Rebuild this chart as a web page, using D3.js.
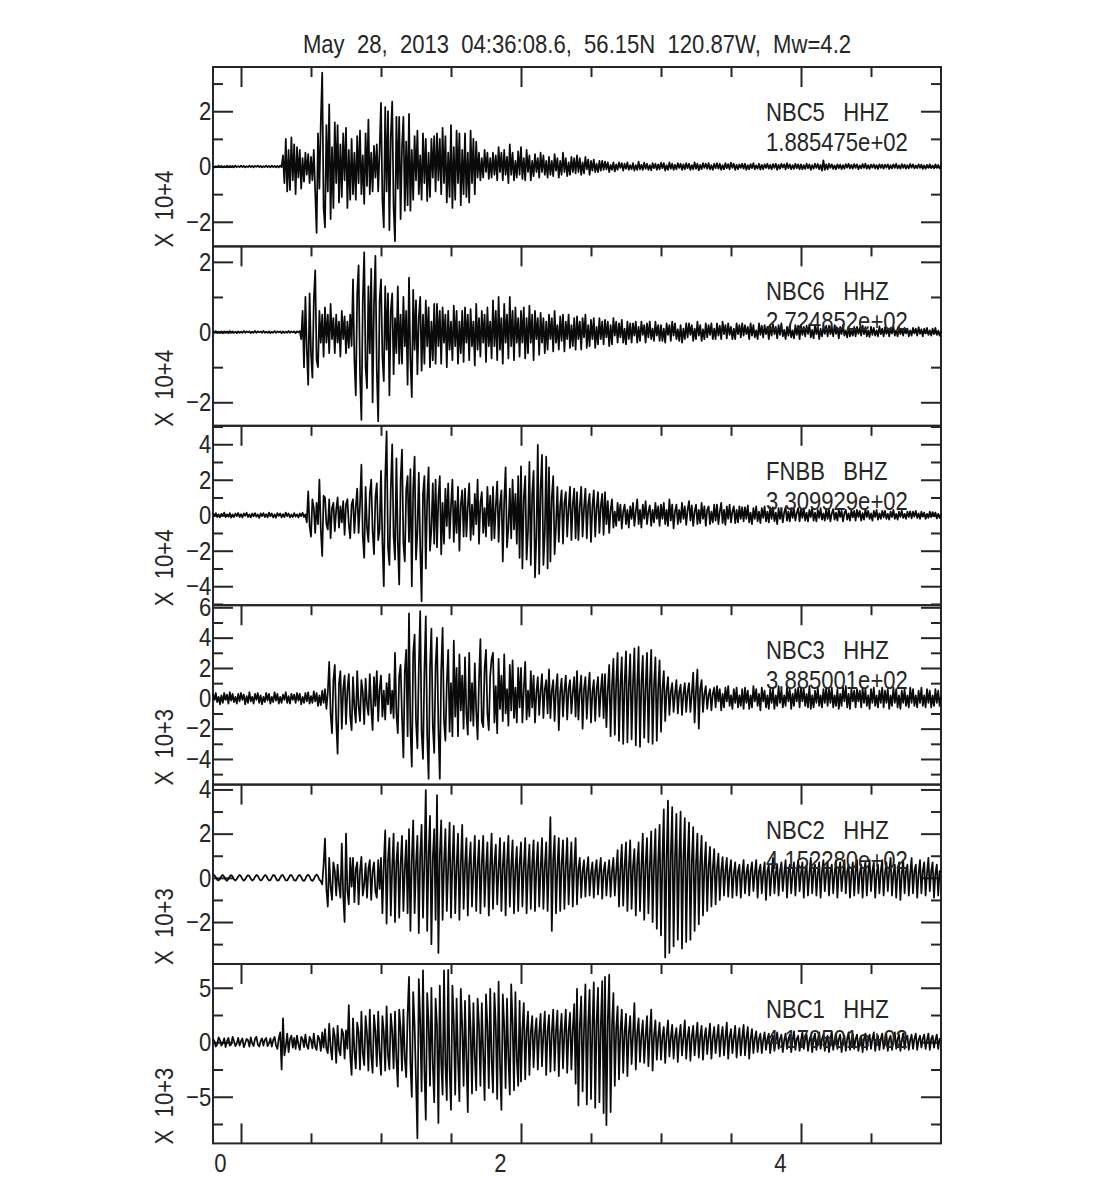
<!DOCTYPE html>
<html>
<head>
<meta charset="utf-8">
<script src="https://cdn.jsdelivr.net/npm/d3@7"></script>
<style>
  html, body { margin: 0; padding: 0; background: #fff; }
  svg { display: block; }
</style>
</head>
<body>
<svg id="chart" width="1100" height="1200"></svg>
<script>
// ---------------- DATA ----------------
const titleText = "May  28,  2013  04:36:08.6,  56.15N  120.87W,  Mw=4.2";
const stations = ["NBC5", "NBC6", "FNBB", "NBC3", "NBC2", "NBC1"];
const channels = ["HHZ", "HHZ", "BHZ", "HHZ", "HHZ", "HHZ"];
const scaleLabels = ["1.885475e+02", "2.724852e+02", "3.309929e+02", "3.885001e+02", "4.152280e+02", "4.179501e+02"];
const unitLabels = ["X  10+4", "X  10+4", "X  10+4", "X  10+3", "X  10+3", "X  10+3"];
const yLo = [-2.89, -2.67, -5.07, -5.69, -3.9, -9.28];
const yHi = [3.6, 2.44, 5.04, 6.14, 4.22, 7.18];
const yMinorStep = [1, 1, 1, 1, 1, 2.5];
const yMajorStep = [2, 2, 2, 2, 2, 5];
const xTickValues = [0, 0.5, 1, 1.5, 2, 2.5, 3, 3.5, 4, 4.5];
const xLabelValues = [0, 2, 4];
const tStart = -0.2, tEnd = 5.0;   // seconds covered by each trace (samples every 0.01 s)

// amplitude samples (one row = 0.2 s)
const nbc5 = [
 0.02,-0.03,0.01,-0.02,0.03,-0.02,0.02,-0.03,0.01,-0.02,0.03,-0.03,0.02,-0.01,0.02,-0.03,0.03,-0.02,0.01,-0.02,
 0.03,-0.02,0.02,-0.03,0.01,-0.02,0.03,-0.02,0.02,-0.03,0.02,-0.01,0.03,-0.02,0.02,-0.03,0.01,-0.02,0.03,-0.02,
 0.02,-0.03,0.03,-0.02,0.02,-0.03,0.02,-0.03,0.03,-0.02,0.4,-0.6,1.0,-0.9,0.6,-0.85,1.05,-0.5,0.8,-1.0,
 0.7,-0.4,0.6,-0.8,0.3,-0.55,0.5,-0.3,0.45,-0.6,0.35,-0.5,0.6,-0.9,-2.4,1.2,-0.8,1.6,3.4,-1.5,
 -2.2,1.5,-0.9,2.25,-1.9,0.7,-1.5,1.6,-0.6,1.5,-1.3,0.8,-1.1,1.2,-0.5,1.4,-1.5,0.6,-1.2,1.0,
 -1.0,0.5,-1.2,1.1,-0.6,1.3,-1.0,0.4,-1.35,1.2,-0.7,1.7,-1.0,0.5,-0.9,0.75,-0.4,0.8,-0.9,0.6,
 2.3,-1.2,-2.2,2.15,-0.9,2.0,-2.3,1.1,2.35,-1.5,-2.7,1.8,-0.8,1.8,-1.9,0.7,1.8,-1.6,0.9,-1.4,
 1.9,-1.6,0.6,-1.2,1.1,-0.5,1.3,-1.0,0.4,-1.2,1.2,-0.6,1.0,-1.25,0.5,-1.1,1.0,-0.4,1.1,-0.9,
 1.2,-0.5,1.0,-1.0,1.4,-0.6,1.1,-1.3,0.5,-1.1,1.5,-1.5,0.7,-1.2,1.3,-0.6,1.2,-1.4,0.6,-1.0,
 1.2,-1.1,0.5,-1.3,1.3,-0.6,1.0,-1.0,0.9,-0.4,0.5,-0.5,0.3,-0.4,0.6,-0.2,0.5,-0.45,0.3,-0.4,
 0.5,-0.3,0.4,-0.5,0.7,-0.2,0.5,-0.5,0.6,-0.3,0.35,-0.6,0.8,-0.3,0.5,-0.5,0.2,-0.4,0.55,-0.3,
 0.7,-0.45,0.3,-0.5,0.6,-0.2,0.4,-0.5,0.2,-0.35,0.45,-0.2,0.3,-0.4,0.5,-0.2,0.4,-0.3,0.2,-0.4,
 0.35,-0.3,0.2,-0.35,0.45,-0.15,0.3,-0.4,0.2,-0.3,0.5,-0.2,0.3,-0.35,0.15,-0.3,0.35,-0.2,0.3,-0.25,
 0.4,-0.2,0.3,-0.3,0.15,-0.25,0.35,-0.1,0.25,-0.3,0.2,-0.15,0.25,-0.2,0.1,-0.2,0.2,-0.15,0.2,-0.12,
 0.18,-0.1,0.15,-0.2,0.06,-0.12,0.15,-0.18,0.08,-0.12,0.15,-0.05,0.12,-0.15,0.1,-0.08,0.15,-0.12,0.05,-0.1,
 0.12,-0.15,0.05,-0.12,0.18,-0.1,0.06,-0.12,0.14,-0.08,0.1,-0.12,0.05,-0.14,0.12,-0.06,0.1,-0.12,0.08,-0.1,
 0.14,-0.06,0.12,-0.15,0.05,-0.12,0.15,-0.08,0.1,-0.12,0.06,-0.1,0.12,-0.05,0.1,-0.12,0.08,-0.1,0.12,-0.06,
 0.1,-0.12,0.05,-0.1,0.15,-0.08,0.1,-0.14,0.06,-0.1,0.12,-0.05,0.1,-0.08,0.12,-0.1,0.05,-0.12,0.1,-0.06,
 0.12,-0.08,0.1,-0.12,0.05,-0.1,0.12,-0.06,0.09,-0.1,0.14,-0.05,0.1,-0.12,0.06,-0.1,0.08,-0.05,0.1,-0.08,
 0.1,-0.12,0.05,-0.1,0.09,-0.06,0.12,-0.1,0.04,-0.08,0.1,-0.11,0.06,-0.1,0.08,-0.05,0.1,-0.08,0.06,-0.1,
 0.09,-0.05,0.1,-0.12,0.06,-0.08,0.1,-0.04,0.08,-0.1,0.12,-0.06,0.08,-0.1,0.05,-0.08,0.1,-0.06,0.08,-0.1,
 0.08,-0.1,0.05,-0.09,0.1,-0.06,0.08,-0.12,0.05,-0.08,0.1,-0.05,0.09,-0.1,0.06,-0.15,0.22,-0.12,0.08,-0.1,
 0.1,-0.05,0.08,-0.09,0.04,-0.1,0.08,-0.06,0.07,-0.1,0.05,-0.08,0.09,-0.04,0.1,-0.07,0.06,-0.08,0.09,-0.05,
 0.08,-0.1,0.04,-0.07,0.09,-0.05,0.1,-0.08,0.05,-0.09,0.07,-0.04,0.08,-0.07,0.05,-0.09,0.08,-0.05,0.07,-0.08,
 0.07,-0.04,0.08,-0.09,0.05,-0.07,0.08,-0.05,0.1,-0.07,0.04,-0.08,0.09,-0.05,0.07,-0.08,0.05,-0.07,0.09,-0.04,
 0.08,-0.07,0.04,-0.06,0.08,-0.05,0.07,-0.09,0.04,-0.08,0.06,-0.05,0.08,-0.06,0.04,-0.07,0.08,-0.05,0.06,-0.07,
 0.03
];
const nbc6 = [
 0.02,-0.01,0.03,-0.02,0.01,-0.02,0.02,-0.03,0.02,-0.01,0.02,-0.02,0.03,-0.01,0.02,-0.02,0.01,-0.03,0.02,-0.02,
 0.01,-0.02,0.03,-0.02,0.02,-0.01,0.02,-0.03,0.01,-0.02,0.03,-0.02,0.02,-0.01,0.02,-0.02,0.03,-0.02,0.01,-0.02,
 0.02,-0.03,0.01,-0.02,0.03,-0.02,0.02,-0.01,0.02,-0.03,0.02,-0.02,0.01,-0.02,0.03,-0.02,0.02,-0.01,0.02,-0.03,
 0.02,-0.01,0.03,-0.2,0.6,-1.0,1.0,-0.5,-1.5,1.1,-0.6,-1.3,0.9,1.76,-0.8,-1.0,0.6,-0.3,0.5,-0.7,
 0.7,-0.3,0.5,-0.6,0.8,-0.2,0.4,-0.6,0.5,-0.3,0.3,-0.7,0.6,-0.2,0.45,-0.6,0.3,-0.45,0.5,-0.4,
 1.5,-0.8,-1.8,1.1,1.9,-1.2,-2.5,0.9,2.27,-1.0,-1.6,1.3,-0.6,1.8,-2.0,0.8,2.17,-1.1,-2.54,0.9,
 1.5,-0.7,-1.4,1.3,-0.5,1.1,-1.8,0.6,1.1,-1.2,0.4,-0.6,1.3,-0.9,0.5,-0.9,1.0,-0.4,0.6,-1.5,
 1.55,-0.8,-1.85,1.2,-0.5,0.9,-1.2,0.4,1.0,-1.1,0.5,-0.9,0.9,-0.4,0.7,-1.0,0.3,-0.8,0.8,-0.9,
 0.8,-0.4,0.6,-0.9,0.7,-0.3,0.5,-1.0,0.6,-0.5,0.3,-0.8,0.75,-0.4,0.6,-0.9,0.3,-0.6,0.6,-0.85,
 0.7,-0.3,0.5,-0.8,0.65,-0.4,0.3,-0.95,0.8,-0.5,0.4,-0.7,0.6,-0.3,0.5,-0.85,0.7,-0.4,0.3,-0.75,
 0.9,-0.4,0.6,-0.8,1.0,-0.5,0.4,-0.9,0.8,-0.3,0.5,-0.75,1.0,-0.4,0.6,-0.8,0.7,-0.3,0.4,-0.7,
 0.6,-0.3,0.7,-0.75,0.4,-0.6,0.75,-0.3,0.5,-0.8,0.6,-0.2,0.4,-0.65,0.55,-0.3,0.4,-0.6,0.3,-0.5,
 0.5,-0.2,0.4,-0.55,0.6,-0.3,0.2,-0.5,0.45,-0.25,0.5,-0.55,0.3,-0.2,0.5,-0.45,0.2,-0.4,0.4,-0.5,
 0.45,-0.2,0.3,-0.5,0.4,-0.15,0.5,-0.45,0.2,-0.4,0.35,-0.2,0.4,-0.45,0.15,-0.35,0.4,-0.2,0.3,-0.35,
 0.35,-0.15,0.3,-0.4,0.2,-0.35,0.4,-0.1,0.3,-0.3,0.25,-0.15,0.35,-0.3,0.1,-0.35,0.3,-0.2,0.25,-0.3,
 0.25,-0.1,0.3,-0.3,0.15,-0.25,0.3,-0.08,0.2,-0.3,0.25,-0.15,0.3,-0.2,0.1,-0.25,0.3,-0.1,0.2,-0.25,
 0.2,-0.25,0.1,-0.3,0.25,-0.08,0.2,-0.25,0.3,-0.1,0.25,-0.2,0.08,-0.25,0.2,-0.3,0.1,-0.2,0.25,-0.15,
 0.25,-0.08,0.2,-0.25,0.1,-0.2,0.3,-0.1,0.2,-0.25,0.08,-0.2,0.25,-0.15,0.2,-0.08,0.25,-0.2,0.1,-0.2,
 0.25,-0.1,0.18,-0.2,0.3,-0.06,0.2,-0.18,0.25,-0.08,0.15,-0.2,0.1,-0.2,0.25,-0.06,0.2,-0.15,0.25,-0.1,
 0.2,-0.06,0.15,-0.2,0.25,-0.1,0.2,-0.15,0.05,-0.2,0.25,-0.08,0.18,-0.15,0.2,-0.06,0.15,-0.2,0.2,-0.1,
 0.22,-0.06,0.15,-0.18,0.2,-0.08,0.25,-0.12,0.06,-0.2,0.15,-0.1,0.2,-0.15,0.05,-0.18,0.2,-0.08,0.18,-0.2,
 0.2,-0.08,0.15,-0.12,0.18,-0.05,0.22,-0.15,0.06,-0.18,0.2,-0.06,0.15,-0.2,0.1,-0.12,0.15,-0.05,0.18,-0.12,
 0.18,-0.06,0.15,-0.12,0.2,-0.05,0.12,-0.18,0.15,-0.06,0.2,-0.1,0.05,-0.15,0.15,-0.12,0.06,-0.1,0.15,-0.12,
 0.15,-0.05,0.12,-0.1,0.18,-0.06,0.14,-0.12,0.05,-0.14,0.15,-0.08,0.12,-0.1,0.05,-0.12,0.16,-0.06,0.1,-0.12,
 0.14,-0.05,0.1,-0.12,0.12,-0.04,0.15,-0.1,0.05,-0.12,0.14,-0.06,0.1,-0.1,0.12,-0.04,0.1,-0.12,0.05,-0.1,
 0.12,-0.04,0.1,-0.1,0.14,-0.05,0.08,-0.12,0.1,-0.04,0.12,-0.08,0.05,-0.1,0.1,-0.06,0.12,-0.08,0.04,-0.1,
 0.03
];
const fnbb = [
 0.1,-0.05,0.12,-0.1,0.04,-0.12,0.08,-0.03,0.15,-0.1,0.05,-0.08,0.12,-0.14,0.04,-0.1,0.1,-0.05,0.13,-0.1,
 0.06,-0.12,0.1,-0.04,0.14,-0.1,0.05,-0.12,0.1,-0.06,0.12,-0.08,0.04,-0.15,0.1,-0.05,0.12,-0.1,0.06,-0.12,
 0.15,-0.06,0.1,-0.12,0.05,-0.14,0.12,-0.04,0.1,-0.12,0.06,-0.1,0.15,-0.05,0.1,-0.12,0.04,-0.1,0.12,-0.08,
 0.05,-0.12,0.1,-0.06,0.14,-0.1,0.05,-0.4,1.35,-0.6,-1.2,0.9,0.4,-1.0,0.7,-0.5,2.0,-0.8,-2.3,1.1,
 1.0,-0.5,-0.8,0.9,-1.3,0.4,0.7,-0.9,0.3,1.0,-0.7,0.5,-0.4,0.8,-1.1,0.6,0.9,-0.5,-1.3,0.6,
 0.9,-1.0,0.5,1.5,-1.0,0.6,2.85,-1.2,-2.4,1.6,-0.7,-1.5,1.2,2.0,-0.9,-2.2,1.0,1.8,-1.4,-0.8,
 2.5,-1.5,-4.0,2.0,4.73,-1.8,-2.8,1.5,4.0,-1.2,-2.5,3.2,-1.5,-3.9,2.0,3.7,-1.6,-2.6,1.4,2.2,
 -1.5,2.6,-4.0,1.5,3.3,-2.5,-1.0,2.4,-1.8,-4.85,1.2,2.2,-3.0,0.9,2.7,-2.0,-0.8,1.8,-1.6,2.0,
 -1.8,1.0,2.2,-2.2,0.7,-1.6,1.5,-0.6,1.8,-1.3,0.5,2.0,-1.5,0.8,-1.0,1.6,-2.0,0.6,1.4,-1.2,
 1.5,-1.2,0.5,1.8,-1.4,0.6,-1.1,1.2,-0.5,2.0,-1.6,0.7,1.3,-1.0,0.4,-1.2,1.6,-0.6,1.1,-1.4,
 1.6,-1.3,0.5,1.9,-1.5,0.6,1.4,-2.6,0.8,2.7,-1.8,-0.7,1.5,-1.3,2.0,-0.8,1.2,-1.6,2.2,-2.4,
 2.76,-3.0,1.0,2.2,-2.5,-0.9,3.0,-2.8,1.2,2.5,-3.5,-1.2,3.96,-3.3,1.5,3.4,-2.8,-1.0,3.3,-3.0,
 2.7,-2.6,1.0,2.2,-2.2,-0.6,1.6,-1.5,0.5,1.4,-1.6,0.7,1.3,-1.2,0.4,1.6,-1.4,0.6,1.5,-1.3,
 1.3,-1.4,0.5,1.6,-1.2,0.4,1.5,-1.3,0.6,1.2,-1.5,0.5,1.4,-1.2,0.4,1.3,-1.0,0.5,1.2,-1.1,
 1.3,-0.5,0.8,-1.0,0.3,0.9,-0.7,0.2,-0.6,0.7,-0.3,0.6,-0.75,0.2,0.6,-0.5,0.3,-0.7,0.5,-0.2,
 0.7,-0.6,0.2,0.9,-0.5,0.3,-0.7,0.6,-0.2,0.8,-0.5,0.2,0.55,-0.6,0.3,-0.4,0.7,-0.2,0.5,-0.6,
 0.6,-0.2,0.7,-0.5,0.3,-0.6,0.9,-0.3,0.6,-0.75,0.2,0.6,-0.5,0.3,-0.4,0.7,-0.2,0.5,-0.55,0.3,
 0.8,-0.3,0.55,-0.6,0.2,0.6,-0.5,0.3,-0.45,0.7,-0.2,0.5,-0.6,0.3,0.5,-0.5,0.2,-0.4,0.6,-0.3,
 0.6,-0.5,0.2,0.7,-0.45,0.3,-0.55,0.5,-0.2,0.6,-0.4,0.2,0.5,-0.45,0.3,-0.4,0.5,-0.2,0.45,-0.35,
 0.45,-0.2,0.55,-0.4,0.15,-0.5,0.4,-0.2,0.5,-0.35,0.2,-0.45,0.4,-0.15,0.5,-0.35,0.2,-0.4,0.45,-0.2,
 0.45,-0.35,0.15,-0.5,0.4,-0.2,0.35,-0.4,0.15,0.45,-0.3,0.2,-0.35,0.4,-0.15,0.35,-0.3,0.15,0.4,-0.35,
 0.35,-0.15,0.4,-0.3,0.15,-0.35,0.3,-0.1,0.4,-0.3,0.15,-0.35,0.3,-0.15,0.4,-0.25,0.1,-0.3,0.35,-0.2,
 0.3,-0.35,0.1,0.35,-0.25,0.15,-0.3,0.3,-0.1,0.25,-0.35,0.12,0.3,-0.25,0.1,-0.3,0.3,-0.12,0.25,-0.3,
 0.3,-0.1,0.25,-0.3,0.12,-0.25,0.35,-0.1,0.25,-0.2,0.1,-0.3,0.25,-0.1,0.3,-0.25,0.1,-0.2,0.25,-0.12,
 0.25,-0.2,0.08,-0.25,0.2,-0.1,0.3,-0.2,0.08,-0.25,0.2,-0.1,0.25,-0.15,0.08,-0.2,0.2,-0.1,0.22,-0.18,
 0.2,-0.08,0.25,-0.15,0.1,-0.2,0.2,-0.08,0.15,-0.2,0.08,-0.15,0.2,-0.1,0.18,-0.06,0.15,-0.18,0.08,-0.15,
 0.05
];
const nbc3 = [
 0.3,-0.1,0.35,-0.25,0.1,-0.4,0.2,-0.3,0.35,-0.1,0.25,-0.35,0.4,-0.15,0.3,-0.25,0.1,-0.35,0.3,-0.2,
 0.35,-0.1,0.25,-0.4,0.15,-0.3,0.4,-0.2,0.1,-0.35,0.3,-0.1,0.35,-0.3,0.2,-0.4,0.1,-0.25,0.35,-0.15,
 0.3,-0.35,0.1,-0.25,0.4,-0.15,0.3,-0.35,0.1,-0.3,0.25,-0.1,0.4,-0.3,0.15,-0.35,0.3,-0.1,0.25,-0.3,
 0.35,-0.15,0.3,-0.4,0.1,-0.3,0.35,-0.2,0.4,-0.35,0.15,-0.3,0.45,-0.2,0.35,-0.5,0.2,-0.45,0.5,-0.3,
 0.6,-0.7,0.4,2.4,-1.0,-2.3,1.2,2.2,-1.5,-3.65,1.0,1.8,-2.0,0.6,1.5,-1.7,0.5,1.6,-1.2,-2.1,
 1.4,-0.6,-1.6,1.8,-0.5,-1.5,1.2,0.4,-1.7,1.3,-0.4,-1.1,1.6,-0.6,-2.1,1.4,-0.5,1.8,-1.5,0.6,
 1.5,-1.2,0.5,-1.4,1.0,-0.4,1.6,-1.0,0.5,-1.3,3.0,-1.0,-2.3,1.5,2.2,-1.2,-3.9,1.8,3.2,-2.5,
 5.6,-2.0,-4.5,3.0,4.2,-1.5,-3.3,2.0,5.75,-2.2,-4.0,1.8,5.4,-2.5,-5.3,2.0,4.6,-1.8,-3.6,2.2,
 4.0,-2.0,-5.3,1.8,4.65,-1.5,-2.8,1.0,3.2,-2.2,1.0,-2.5,3.8,-1.2,2.0,-2.5,2.9,-0.8,1.5,-2.0,
 2.7,-1.0,-2.4,3.0,-1.5,1.0,-1.8,2.3,-0.8,-2.7,1.2,3.9,-1.5,-1.9,2.0,3.2,-1.0,-2.1,1.5,2.6,
 3.0,-1.6,0.8,-2.3,2.6,-0.7,1.5,-1.5,2.9,-1.0,0.6,-1.8,2.2,-0.8,2.5,-1.3,0.7,-1.6,2.0,-0.6,
 2.0,-1.6,0.6,2.4,-1.4,0.5,-1.2,1.8,-0.6,1.5,-1.6,0.4,1.4,-1.1,0.5,1.6,-1.3,0.6,1.2,-1.0,
 1.9,-1.3,0.5,1.2,-1.5,0.6,1.6,-2.1,0.4,1.3,-1.2,0.5,1.5,-1.4,0.6,1.2,-1.0,0.4,1.4,-1.2,
 1.8,-1.4,0.5,1.5,-2.0,0.6,1.4,-1.35,0.5,1.7,-1.6,0.4,1.2,-1.5,0.6,1.4,-1.2,0.5,1.6,-1.3,
 1.6,-1.9,0.6,2.2,-2.5,0.8,2.6,-2.4,1.0,3.0,-2.8,0.9,2.7,-3.0,1.0,3.1,-2.9,0.8,2.9,-2.7,
 1.0,3.3,-3.1,0.8,3.4,-3.2,1.0,2.8,-2.6,0.7,3.0,-2.9,0.9,3.2,-3.0,0.8,2.7,-2.8,0.7,2.5,
 -2.2,0.6,1.8,-1.5,0.5,1.4,-1.1,0.4,1.0,-0.9,0.3,1.2,-1.0,0.4,0.9,-1.1,0.3,1.0,-0.9,0.4,
 1.0,-0.9,0.3,1.7,-1.6,0.5,1.9,-2.0,0.6,1.2,-0.9,0.3,0.8,-0.7,0.2,0.6,-0.8,0.3,0.7,-0.6,
 0.8,-0.2,0.6,-0.8,0.3,-0.6,0.7,-0.2,0.8,-0.5,0.2,-0.7,0.6,-0.3,0.7,-0.6,0.2,-0.5,0.6,-0.7,
 0.7,-0.3,0.5,-0.7,0.2,-0.6,0.8,-0.2,0.6,-0.5,0.3,-0.8,0.7,-0.2,0.5,-0.6,0.2,-0.7,0.6,-0.3,
 0.6,-0.7,0.2,-0.5,0.8,-0.3,0.6,-0.6,0.2,-0.5,0.7,-0.2,0.6,-0.7,0.3,-0.5,0.6,-0.2,0.7,-0.6,
 0.7,-0.2,0.6,-0.5,0.3,-0.6,0.8,-0.7,0.2,-0.6,0.5,-0.3,0.7,-0.5,0.2,-0.6,0.6,-0.3,0.7,-0.5,
 0.6,-0.3,0.7,-0.6,0.2,-0.5,0.6,-0.7,0.3,-0.5,0.7,-0.2,0.8,-0.6,0.3,-0.7,0.6,-0.2,0.5,-0.6,
 0.6,-0.2,0.5,-0.6,0.7,-0.3,0.6,-0.5,0.2,-0.7,0.6,-0.3,0.7,-0.5,0.2,-0.6,0.5,-0.3,0.7,-0.6,
 0.5,-0.3,0.6,-0.7,0.2,-0.5,0.7,-0.3,0.6,-0.6,0.2,-0.7,0.5,-0.3,0.6,-0.5,0.2,-0.6,0.7,-0.3,
 0.6,-0.5,0.2,-0.6,0.5,-0.3,0.7,-0.5,0.2,-0.6,0.6,-0.3,0.5,-0.6,0.2,-0.5,0.6,-0.3,0.5,-0.5,
 0.2
];
const nbc2 = [
 0.1,0.12,0.03,-0.09,-0.12,-0.04,0.08,0.13,0.05,-0.08,-0.13,-0.05,0.07,0.12,0.06,-0.07,-0.12,-0.06,0.06,0.13,
 0.07,-0.06,-0.13,-0.07,0.05,0.12,0.08,-0.05,-0.12,-0.08,0.04,0.13,0.09,-0.04,-0.12,-0.09,0.03,0.12,0.1,-0.03,
 -0.12,-0.1,0.02,0.13,0.11,-0.02,-0.13,-0.11,0.01,0.12,0.12,0.0,-0.12,-0.12,-0.01,0.11,0.13,0.02,-0.11,-0.13,
 -0.03,0.1,0.13,0.04,-0.1,-0.14,-0.05,0.09,0.14,0.06,-0.09,-0.14,-0.06,0.08,0.15,0.07,-0.08,-0.15,-0.3,0.6,
 1.78,-0.5,-1.3,0.9,-0.4,-1.0,0.7,0.3,-0.8,0.6,-0.3,-0.9,1.55,-0.8,-2.0,2.0,-0.6,-1.2,0.9,-0.4,
 0.9,-1.1,0.4,0.7,-1.2,0.3,0.95,-0.8,-0.3,0.65,-0.9,0.4,0.8,-1.0,0.3,0.7,-0.6,-0.9,0.8,-0.5,
 0.9,-1.6,0.6,2.15,-2.07,0.8,1.8,-1.7,0.5,2.0,-2.0,0.7,1.6,-1.8,0.6,1.9,-1.5,0.4,1.7,-1.6,
 2.2,-2.4,0.8,2.6,-1.6,0.6,1.9,-2.5,1.0,2.4,-1.8,0.7,3.97,-2.4,1.0,2.8,-3.0,0.9,2.2,-1.9,
 3.74,-3.4,1.0,2.6,-1.9,0.6,2.2,-1.5,0.5,2.5,-1.8,0.7,2.35,-1.6,0.5,2.0,-1.9,0.6,2.4,-1.4,
 0.5,1.8,-1.7,0.6,1.6,-1.3,0.4,1.9,-1.5,0.5,1.7,-1.6,0.6,1.9,-1.3,0.4,1.6,-1.7,0.5,2.0,
 -1.4,0.6,1.5,-1.2,0.4,1.8,-1.5,0.5,1.6,-1.7,0.6,1.9,-1.3,0.5,1.7,-1.6,0.4,1.4,-1.5,0.6,
 1.6,-1.3,0.5,1.8,-1.6,0.4,1.5,-1.4,0.6,1.7,-1.5,0.5,1.6,-1.3,0.4,1.8,-1.4,0.5,1.6,-1.5,
 0.6,2.75,-2.4,0.8,1.9,-1.6,0.5,1.8,-1.5,0.6,1.7,-1.4,0.5,1.8,-1.2,0.4,1.6,-1.3,0.5,1.8,
 -1.2,0.4,0.9,-0.9,0.3,0.8,-0.85,0.3,0.94,-0.8,0.2,0.7,-0.9,0.3,0.8,-0.75,0.3,0.9,-0.94,0.3,
 0.7,-0.8,0.2,0.8,-0.85,0.3,0.9,-0.8,0.3,1.25,-1.3,0.4,1.5,-1.26,0.5,1.6,-1.5,0.4,1.7,-1.4,
 0.5,1.3,-1.7,0.6,1.6,-1.5,0.5,2.0,-1.9,0.6,1.8,-1.6,0.5,2.1,-2.0,0.6,2.2,-2.3,0.7,2.4,
 -2.6,0.8,3.1,-3.6,0.9,3.5,-3.4,1.0,3.2,-3.1,0.9,2.9,-2.8,0.8,3.0,-3.2,0.9,2.7,-2.9,0.8,
 2.5,-2.8,0.7,2.3,-2.4,0.6,2.0,-2.1,0.6,1.9,-1.7,0.5,1.6,-1.5,0.5,1.4,-1.3,0.4,1.3,-1.2,
 0.4,1.1,-1.0,0.3,0.94,-0.8,0.3,0.9,-0.85,0.3,0.8,-0.9,0.2,0.7,-0.8,0.3,0.6,-0.9,0.2,0.8,
 -0.7,0.2,0.6,-0.8,0.3,0.7,-0.6,0.2,0.8,-0.9,0.3,0.6,-0.7,0.2,0.7,-1.0,0.3,0.6,-0.8,0.2,
 0.9,-0.7,0.2,0.6,-0.8,0.3,0.7,-0.6,0.2,0.8,-0.9,0.3,0.6,-0.7,0.2,0.7,-0.8,0.3,0.8,-0.6,
 0.2,0.7,-0.9,0.3,0.6,-0.8,0.2,0.9,-0.7,0.3,0.6,-0.8,0.2,0.7,-0.9,0.3,0.8,-0.6,0.2,0.7,
 -0.8,0.3,0.6,-0.7,0.2,0.8,-0.9,0.3,0.7,-0.6,0.2,0.8,-0.7,0.3,0.6,-0.9,0.2,0.7,-0.8,0.3,
 0.8,-0.7,0.2,0.6,-0.9,0.3,0.7,-0.8,0.2,0.8,-0.6,0.3,0.7,-0.9,0.2,0.6,-0.7,0.3,0.8,-0.8,
 0.2,0.7,-0.6,0.3,0.9,-0.8,0.2,0.6,-0.9,0.3,0.7,-1.0,0.2,0.8,-0.7,0.3,0.6,-0.8,0.2,0.9,
 -0.7,0.3,0.6,-0.9,0.2,0.8,-0.7,0.3,0.7,-0.8,0.2,0.9,-0.6,0.3,0.7,-0.9,0.2,0.6,-0.8,0.3,
 0.3
];
const nbc1 = [
 0.3,0.1,-0.4,-0.2,0.45,0.2,-0.3,-0.1,0.35,-0.45,0.1,0.4,-0.3,-0.2,0.5,0.1,-0.35,-0.1,0.4,-0.3,
 0.1,0.35,-0.45,-0.1,0.3,0.2,-0.4,0.45,-0.1,-0.35,0.3,0.5,-0.2,-0.4,0.1,0.35,-0.3,0.2,0.4,-0.35,
 -0.1,0.35,-0.4,0.2,0.5,-0.3,-0.6,0.4,0.9,-2.5,2.2,-1.2,-0.4,0.8,-0.9,0.3,0.6,-0.5,0.4,-0.6,
 0.6,-0.2,-0.7,0.5,0.3,-0.45,0.7,-0.3,-0.6,0.5,0.2,-0.55,0.8,-0.4,-0.7,0.6,0.3,-0.8,0.9,-0.5,
 1.2,-0.6,-1.0,1.7,-0.5,-1.6,1.3,0.5,-1.9,1.5,-0.7,-1.2,1.2,0.8,-1.5,1.1,-0.6,3.4,-1.2,-3.0,
 2.2,-0.8,-2.4,1.8,0.9,-2.5,2.8,-1.0,-2.1,2.4,0.8,-2.6,3.0,-1.2,-2.8,2.5,1.0,-2.2,2.8,-1.0,
 -3.0,2.4,0.9,-2.6,3.3,-1.2,-2.5,2.6,1.0,-2.4,2.8,-1.5,-4.07,3.0,1.2,-2.6,3.0,-1.5,-3.2,2.5,
 6.0,-2.0,-5.0,4.6,1.5,-3.5,-8.8,5.8,2.0,-4.5,6.6,-2.5,-7.1,4.5,1.8,-4.0,5.0,-2.0,-5.5,4.0,
 1.5,-7.4,5.2,-1.8,-4.8,6.6,-2.0,-5.3,6.65,-2.5,-6.2,5.2,1.8,-4.8,4.0,-1.5,-5.4,4.9,1.5,-4.0,
 3.8,-1.5,-6.4,4.3,1.2,-4.7,3.6,-1.2,-4.4,4.0,1.5,-4.0,3.6,-1.0,-5.3,4.4,1.5,-4.2,4.9,-1.6,
 -4.6,4.5,1.5,-5.2,5.57,-2.0,-6.2,4.4,1.5,-4.2,4.0,-1.4,-4.8,5.3,1.8,-4.4,4.6,-1.5,-4.0,3.8,
 -3.6,1.2,3.6,-3.4,1.0,2.8,-3.0,0.9,2.4,-2.3,0.8,2.2,-2.5,0.9,2.6,-2.2,0.8,2.8,-3.0,1.0,
 2.5,-2.7,0.9,3.0,-2.6,1.0,2.9,-3.1,0.8,2.6,-2.4,0.9,3.0,-2.8,1.0,2.7,-2.5,1.2,3.5,-3.8,
 4.9,-5.8,1.5,4.2,-4.5,1.2,5.3,-5.7,1.6,4.8,-5.2,1.4,5.5,-6.0,1.8,5.0,-5.5,1.5,5.6,-6.5,
 6.0,-7.6,2.0,6.2,-6.4,1.5,4.5,-4.0,1.2,3.3,-3.4,1.0,3.0,-2.8,0.9,2.6,-3.1,0.8,2.4,-2.0,
 0.7,3.6,-2.5,0.8,2.2,-1.8,0.6,2.0,-1.9,0.5,2.4,-2.2,0.7,3.0,-2.6,0.6,2.0,-1.6,0.5,1.8,
 -1.6,0.5,1.4,-1.9,0.6,2.0,-1.3,0.4,1.6,-1.5,0.5,1.3,-1.8,0.5,1.6,-1.2,0.4,2.0,-1.5,0.5,
 1.4,-1.7,0.5,1.5,-1.2,0.4,1.8,-1.4,0.5,1.5,-1.6,0.4,1.3,-1.1,0.5,1.7,-1.5,0.4,1.4,-1.0,
 0.4,1.6,-1.3,0.5,1.4,-1.2,0.4,1.8,-1.5,0.5,1.2,-1.0,0.4,1.5,-1.4,0.3,1.3,-1.2,0.4,1.6,
 -1.2,0.4,1.4,-1.5,0.3,1.2,-1.0,0.3,1.0,-0.9,0.3,0.8,-1.0,0.2,0.9,-0.7,0.3,0.8,-1.0,0.2,
 0.6,-0.8,0.2,0.9,-0.6,0.3,0.7,-0.9,0.2,0.8,-0.6,0.3,0.7,-0.9,0.2,1.0,-0.7,0.3,0.6,-0.8,
 0.2,0.9,-0.6,0.3,0.7,-0.8,0.2,0.6,-0.9,0.3,0.8,-0.7,0.2,0.9,-0.6,0.3,0.7,-0.8,0.2,0.6,
 -0.9,0.3,1.0,-0.7,0.2,0.8,-0.6,0.3,0.7,-0.9,0.2,0.6,-0.8,0.3,0.9,-0.7,0.2,0.8,-0.6,0.3,
 0.7,-0.8,0.2,0.6,-0.9,0.3,0.8,-0.7,0.2,0.7,-0.6,0.3,0.9,-0.8,0.2,0.6,-0.7,0.3,0.8,-0.6,
 0.2,0.7,-0.8,0.3,0.6,-0.7,0.2,0.9,-0.6,0.3,0.7,-0.8,0.2,0.8,-0.6,0.3,0.6,-0.7,0.2,0.7,
 -0.6,0.3,0.8,-0.7,0.2,0.6,-0.5,0.3,0.7,-0.6,0.2,0.8,-0.7,0.3,0.6,-0.5,0.2,0.7,-0.6,0.3,
 0.3
];
const traces = [nbc5, nbc6, fnbb, nbc3, nbc2, nbc1];

// ---------------- LAYOUT ----------------
const W = 1100, H = 1200;
const plotLeft = 213, plotRight = 941, plotTop = 67, panelH = 179.4;
const ink = "#262626";
const fontFamily = "'Liberation Sans', Arial, sans-serif";
const fs = 26, sx = 0.85;

const svg = d3.select("#chart");
svg.append("rect").attr("width", W).attr("height", H).attr("fill", "#fff");

const x = d3.scaleLinear().domain([tStart, tEnd]).range([plotLeft, plotRight]);

function label(g, px, py, str, anchor) {
  return g.append("text")
    .attr("transform", `translate(${px},${py}) scale(${sx},1)`)
    .attr("text-anchor", anchor)
    .attr("font-family", fontFamily)
    .attr("font-size", fs)
    .attr("fill", ink)
    .style("white-space", "pre")
    .text(str);
}

// title
label(svg, (plotLeft + plotRight) / 2, 53, titleText, "middle");

function styleAxis(g) {
  g.select(".domain").remove();
  g.selectAll(".tick line").attr("stroke", ink).attr("stroke-width", 2);
  g.selectAll(".tick text")
    .attr("font-family", fontFamily)
    .attr("font-size", fs)
    .attr("fill", ink)
    .attr("transform", `scale(${sx},1)`);
}

traces.forEach((trace, p) => {
  const y0 = plotTop + p * panelH;
  const y1 = y0 + panelH;
  const y = d3.scaleLinear().domain([yLo[p], yHi[p]]).range([y1, y0]);
  const g = svg.append("g");

  const all = d3.range(Math.ceil(yLo[p] / yMinorStep[p] - 1e-9) * yMinorStep[p], yHi[p] + 1e-9, yMinorStep[p]);
  const isMajor = v => Math.abs(v / yMajorStep[p] - Math.round(v / yMajorStep[p])) < 1e-6;
  const majors = all.filter(isMajor);
  const minors = all.filter(v => !isMajor(v));

  // left axis
  g.append("g").attr("transform", `translate(${plotLeft},0)`)
    .call(d3.axisLeft(y).tickValues(minors).tickSize(-10).tickFormat(""))
    .call(styleAxis);
  g.append("g").attr("transform", `translate(${plotLeft},0)`)
    .call(d3.axisLeft(y).tickValues(majors).tickSize(-20).tickPadding(2).tickFormat(d3.format("d")))
    .call(styleAxis);
  // right axis
  g.append("g").attr("transform", `translate(${plotRight},0)`)
    .call(d3.axisRight(y).tickValues(minors).tickSize(-10).tickFormat(""))
    .call(styleAxis);
  g.append("g").attr("transform", `translate(${plotRight},0)`)
    .call(d3.axisRight(y).tickValues(majors).tickSize(-20).tickFormat(""))
    .call(styleAxis);
  // top ticks
  const xMaj = xTickValues.filter(v => xLabelValues.includes(v));
  const xMin = xTickValues.filter(v => !xLabelValues.includes(v));
  g.append("g").attr("transform", `translate(0,${y0})`)
    .call(d3.axisTop(x).tickValues(xMin).tickSize(-10).tickFormat(""))
    .call(styleAxis);
  g.append("g").attr("transform", `translate(0,${y0})`)
    .call(d3.axisTop(x).tickValues(xMaj).tickSize(-20).tickFormat(""))
    .call(styleAxis);
  if (p === traces.length - 1) {
    g.append("g").attr("transform", `translate(0,${y1})`)
      .call(d3.axisBottom(x).tickValues(xMin).tickSize(-10).tickFormat(""))
      .call(styleAxis);
    const bx = g.append("g").attr("transform", `translate(0,${y1})`)
      .call(d3.axisBottom(x).tickValues(xMaj).tickSize(-20).tickPadding(10).tickFormat(d3.format("d")))
      .call(styleAxis);
    bx.selectAll(".tick text").attr("x", -21 / sx);
  }

  // frame
  g.append("rect").attr("x", plotLeft).attr("y", y0)
    .attr("width", plotRight - plotLeft).attr("height", panelH)
    .attr("fill", "none").attr("stroke", ink).attr("stroke-width", 2);

  // waveform (samples evenly spread over the time window)
  const step = (tEnd - tStart) / (trace.length - 1);
  const line = d3.line().x((d, i) => x(tStart + i * step)).y(d => y(d));
  g.append("path").datum(trace)
    .attr("d", line)
    .attr("fill", "none")
    .attr("stroke", "#0a0a0a")
    .attr("stroke-width", 1.75)
    .attr("stroke-linejoin", "round");

  // station labels
  label(g, 766, y0 + 54, `${stations[p]}   ${channels[p]}`, "start");
  label(g, 766, y0 + 84, scaleLabels[p], "start");

  // unit label, rotated
  svg.append("text")
    .attr("transform", `translate(173,${y1 + 1}) rotate(-90) scale(${sx},1)`)
    .attr("text-anchor", "start")
    .attr("font-family", fontFamily)
    .attr("font-size", fs)
    .attr("fill", ink)
    .style("white-space", "pre")
    .text(unitLabels[p]);
});
</script>
</body>
</html>
